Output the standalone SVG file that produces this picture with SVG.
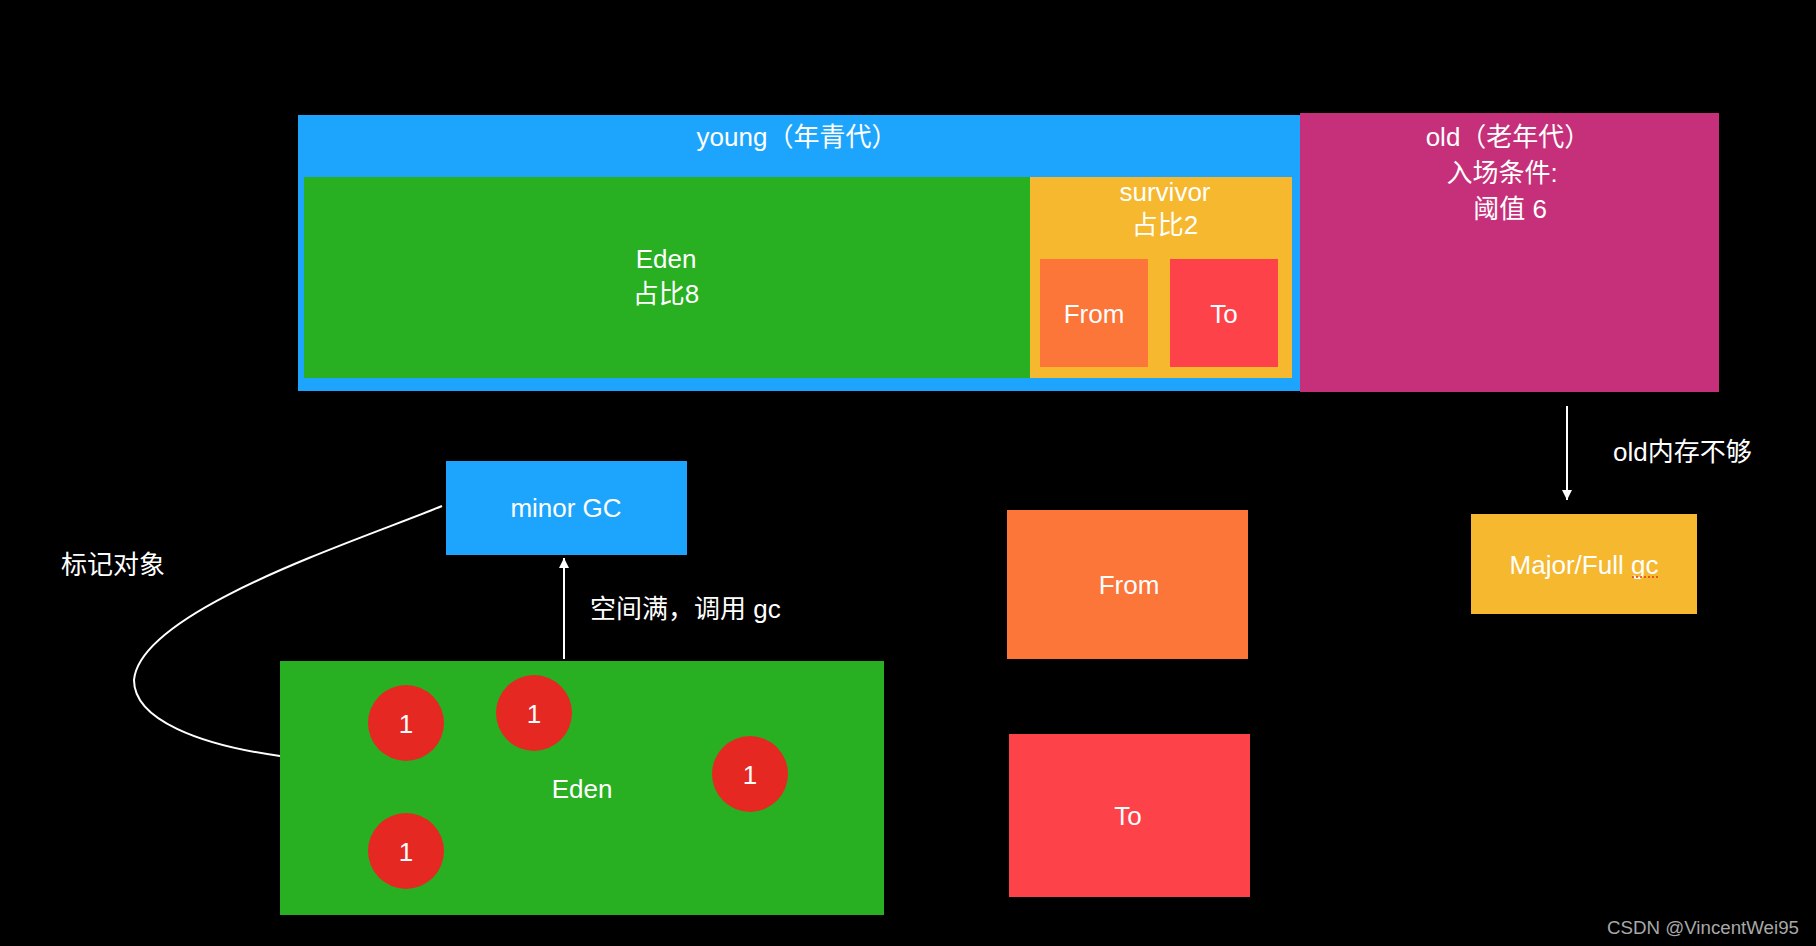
<svg xmlns="http://www.w3.org/2000/svg" width="1816" height="946" viewBox="0 0 1816 946">
<style>
.t{font-family:"Liberation Sans","Noto Sans CJK SC",sans-serif;font-size:26px;fill:#ffffff;text-anchor:middle}
.tl{font-family:"Liberation Sans","Noto Sans CJK SC",sans-serif;font-size:26px;fill:#ffffff}
.blue{fill:#1DA5FD}
.green{fill:#28AF22}
.yellow{fill:#F5B82E}
.orange{fill:#FC7539}
.red{fill:#FD4349}
.mag{fill:#C62F79}
.dot{fill:#E62823}
.line{stroke:#ffffff;stroke-width:2;fill:none}
</style>
<defs>
<marker id="ah" markerWidth="10" markerHeight="10" refX="10" refY="5" orient="auto" markerUnits="userSpaceOnUse">
<path d="M0,0 L10,5 L0,10 z" fill="#ffffff"/>
</marker>
</defs>
<rect x="0" y="0" width="1816" height="946" fill="#000000"/>

<g id="young">
<rect class="blue" x="298" y="115" width="1002" height="276"/>
<text class="t" x="797" y="146">young（年青代）</text>
</g>
<g id="eden-top">
<rect class="green" x="304" y="177" width="726" height="201"/>
<text class="t" x="666" y="268">Eden</text>
<text class="t" x="666" y="303">占比8</text>
</g>
<g id="survivor">
<rect class="yellow" x="1030" y="177" width="262" height="201"/>
<text class="t" x="1165" y="201">survivor</text>
<text class="t" x="1165" y="234">占比2</text>
</g>
<g id="from-top">
<rect class="orange" x="1040" y="259" width="108" height="108"/>
<text class="t" x="1094" y="323">From</text>
</g>
<g id="to-top">
<rect class="red" x="1170" y="259" width="108" height="108"/>
<text class="t" x="1224" y="323">To</text>
</g>
<g id="old">
<rect class="mag" x="1300" y="113" width="419" height="279"/>
<text class="t" x="1508" y="146">old（老年代）</text>
<text class="t" x="1502" y="182">入场条件:</text>
<text class="t" x="1510" y="218">阈值 6</text>
</g>

<g id="minor-gc">
<rect class="blue" x="446" y="461" width="241" height="94"/>
<text class="t" x="566" y="517">minor GC</text>
</g>
<g id="eden-bottom">
<rect class="green" x="280" y="661" width="604" height="254"/>
<text class="t" x="582" y="798">Eden</text>
</g>
<g id="obj1"><circle class="dot" cx="406" cy="723" r="38"/><text class="t" x="406" y="733">1</text></g>
<g id="obj2"><circle class="dot" cx="534" cy="713" r="38"/><text class="t" x="534" y="723">1</text></g>
<g id="obj3"><circle class="dot" cx="750" cy="774" r="38"/><text class="t" x="750" y="784">1</text></g>
<g id="obj4"><circle class="dot" cx="406" cy="851" r="38"/><text class="t" x="406" y="861">1</text></g>

<g id="from-bottom">
<rect class="orange" x="1007" y="510" width="241" height="149"/>
<text class="t" x="1129" y="594">From</text>
</g>
<g id="to-bottom">
<rect class="red" x="1009" y="734" width="241" height="163"/>
<text class="t" x="1128" y="825">To</text>
</g>
<g id="major">
<rect class="yellow" x="1471" y="514" width="226" height="100"/>
<text class="t" x="1584" y="574">Major/Full gc</text>
<line x1="1632" y1="577" x2="1660" y2="577" stroke="#E0391B" stroke-width="1.5" stroke-dasharray="2,2"/>
</g>

<g id="connectors">
<line class="line" x1="564" y1="659" x2="564" y2="558" marker-end="url(#ah)"/>
<line class="line" x1="1567" y1="406" x2="1567" y2="500" marker-end="url(#ah)"/>
<path class="line" d="M442,506 C360,540 140,610 134,680 C134,720 200,745 280,756"/>
</g>

<g id="labels">
<text class="tl" x="590" y="618">空间满，调用 gc</text>
<text class="tl" x="61" y="574">标记对象</text>
<text class="tl" x="1613" y="461">old内存不够</text>
</g>
<text x="1607" y="934" font-family="Liberation Sans, sans-serif" font-size="18" textLength="192" lengthAdjust="spacingAndGlyphs" fill="#A8A8A8">CSDN @VincentWei95</text>
</svg>
